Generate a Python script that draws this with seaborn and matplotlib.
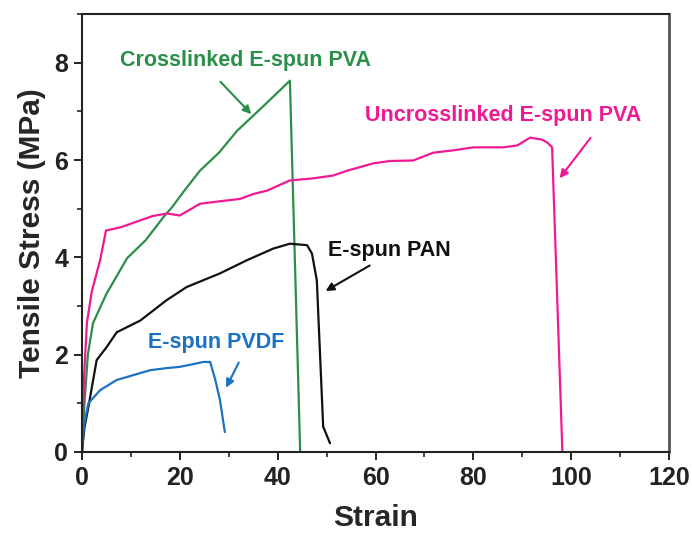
import numpy as np
import pandas as pd
import matplotlib
matplotlib.use("Agg")
import matplotlib.pyplot as plt
from matplotlib.ticker import MultipleLocator
import seaborn as sns

# ---- data ----
cross_x = [0, 0.5, 1.2, 2.25, 5.0, 9.2, 13.0, 16.6, 18.4, 21.0, 24.1, 28.0, 31.7, 37.0, 42.5, 44.6]
cross_y = [0, 1.0, 2.0, 2.65, 3.25, 3.98, 4.35, 4.82, 5.03, 5.38, 5.78, 6.15, 6.6, 7.1, 7.63, 0.0]

uncross_x = [0, 0.4, 1.0, 2.0, 3.7, 4.9, 8.0, 11.9, 14.5, 17.4, 20.0, 24.1, 28.0, 32.3, 35.0, 37.8,
             42.5, 47.0, 51.3, 54.2, 59.5, 63.0, 67.7, 71.8, 76.0, 80.0, 86.1, 89.0, 91.6, 94.0, 95.1, 96.1, 98.2]
uncross_y = [0, 1.5, 2.65, 3.3, 3.94, 4.55, 4.62, 4.76, 4.85, 4.9, 4.86, 5.1, 5.15, 5.2, 5.3, 5.37,
             5.58, 5.62, 5.68, 5.78, 5.93, 5.98, 5.99, 6.15, 6.2, 6.26, 6.26, 6.3, 6.46, 6.42, 6.36, 6.26, 0.0]

pan_x = [0, 0.5, 1.3, 3.0, 5.0, 7.1, 11.9, 17.3, 21.4, 28.2, 33.7, 39.1, 42.5, 46.0, 47.0, 48.0, 49.3, 50.7]
pan_y = [0, 0.5, 0.92, 1.89, 2.15, 2.46, 2.7, 3.12, 3.39, 3.67, 3.94, 4.18, 4.28, 4.25, 4.08, 3.53, 0.52, 0.18]

pvdf_x = [0, 0.4, 1.3, 3.7, 7.1, 10.5, 13.9, 17.0, 20.0, 22.5, 24.8, 26.2, 27.2, 28.2, 29.2]
pvdf_y = [0, 0.55, 1.0, 1.27, 1.48, 1.58, 1.68, 1.72, 1.75, 1.8, 1.85, 1.85, 1.5, 1.07, 0.41]

x_ticks = [0, 20, 40, 60, 80, 100, 120]
y_ticks = [0, 2, 4, 6, 8]

series_names = ["Crosslinked E-spun PVA", "Uncrosslinked E-spun PVA", "E-spun PAN", "E-spun PVDF"]
colors = ["#2a8f48", "#ef1a93", "#111111", "#1a72c4"]

# ---- figure ----
sns.set_theme(style="white")
plt.rcParams['font.family'] = ['Liberation Sans', 'DejaVu Sans']

fig = plt.figure(figsize=(6.92, 5.33), dpi=100)
ax = fig.add_axes([0.1185, 0.152, 0.8483, 0.8217])

frames = []
for name, xs, ys in zip(series_names,
                        [cross_x, uncross_x, pan_x, pvdf_x],
                        [cross_y, uncross_y, pan_y, pvdf_y]):
    frames.append(pd.DataFrame({"Strain": xs, "Stress": ys, "Sample": name}))
df = pd.concat(frames, ignore_index=True)

sns.lineplot(data=df, x="Strain", y="Stress", hue="Sample", units="Sample", estimator=None,
             sort=False, palette=dict(zip(series_names, colors)), linewidth=1.6,
             legend=False, ax=ax)

ax.set_xlim(0, 120)
ax.set_ylim(0, 9)
ax.set_xticks(x_ticks)
ax.set_yticks(y_ticks)
ax.xaxis.set_minor_locator(MultipleLocator(10))
ax.yaxis.set_minor_locator(MultipleLocator(1))
ax.tick_params(which="major", direction="out", length=6, width=1.4, colors="#222222",
               labelsize=18, bottom=True, left=True, top=False, right=False, pad=4)
ax.tick_params(which="minor", direction="out", length=3.5, width=1.2, bottom=True, left=True,
               top=False, right=False)
for lbl in ax.get_xticklabels() + ax.get_yticklabels():
    lbl.set_fontweight("bold")
for s in ax.spines.values():
    s.set_color("#222222")
    s.set_linewidth(1.5)
ax.spines["right"].set_color("#555555")
ax.spines["right"].set_linewidth(2.0)

ax.set_xlabel("Strain", fontsize=21.5, fontweight="bold", labelpad=10)
ax.set_ylabel("Tensile Stress (MPa)", fontsize=21.5, fontweight="bold", labelpad=6)

# annotations
tfs = 15.5
ax.text(33.5, 8.04, series_names[0], color=colors[0], fontsize=tfs, fontweight="bold", ha="center", va="center")
ax.annotate("", xy=(35.0, 6.9), xytext=(27.9, 7.65),
            arrowprops=dict(arrowstyle="-|>", color=colors[0], lw=1.5, mutation_scale=12))
ax.text(86.1, 6.91, series_names[1], color=colors[1], fontsize=tfs, fontweight="bold", ha="center", va="center")
ax.annotate("", xy=(97.3, 5.58), xytext=(104.3, 6.5),
            arrowprops=dict(arrowstyle="-|>", color=colors[1], lw=1.5, mutation_scale=12))
ax.text(62.8, 4.14, series_names[2], color=colors[2], fontsize=tfs, fontweight="bold", ha="center", va="center")
ax.annotate("", xy=(49.3, 3.28), xytext=(59.3, 3.86),
            arrowprops=dict(arrowstyle="-|>", color=colors[2], lw=1.5, mutation_scale=12))
ax.text(27.4, 2.24, series_names[3], color=colors[3], fontsize=tfs, fontweight="bold", ha="center", va="center")
ax.annotate("", xy=(29.2, 1.27), xytext=(32.3, 1.89),
            arrowprops=dict(arrowstyle="-|>", color=colors[3], lw=1.5, mutation_scale=12))

fig.savefig("out.png", dpi=100)
